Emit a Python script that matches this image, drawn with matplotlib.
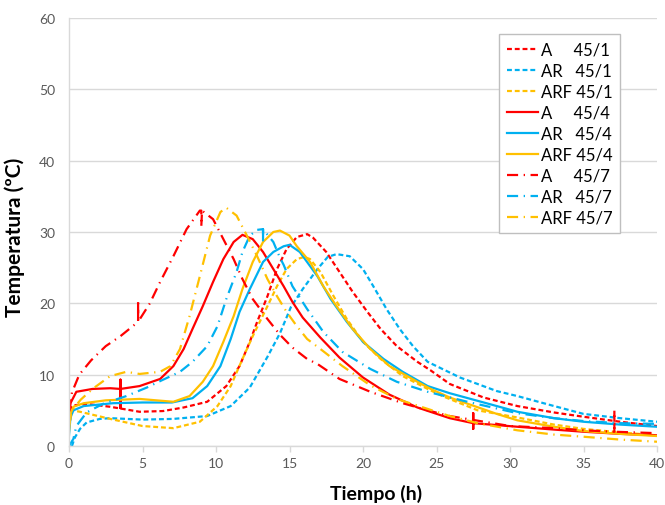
import matplotlib
matplotlib.use("Agg")
import matplotlib.pyplot as plt

plt.rcParams['font.family'] = ['Lato', 'DejaVu Sans']

# ---- data ----
x_A1 = [0, 0.3, 1.2, 2.8, 4.8, 6.4, 7.8, 9.4, 10.7, 11.6, 12.3, 12.8, 13.5, 14.15, 14.8, 15.5, 16.2, 16.6, 17.5, 18.4, 19.3, 20.3, 21.2, 22.3, 23.7, 24.6, 25.9, 28.2, 30.5, 33, 35, 37.5, 40]
y_A1 = [5.0, 5.7, 5.9, 5.5, 4.8, 4.9, 5.4, 6.2, 8.4, 11.2, 14.6, 17.4, 21.0, 24.8, 27.6, 29.3, 29.7, 29.2, 27.2, 24.4, 21.6, 18.8, 16.4, 14.0, 11.8, 10.6, 8.7, 6.8, 5.6, 4.7, 4.1, 3.4, 2.8]

x_AR1 = [0.2, 0.4, 0.75, 1.2, 2.1, 2.8, 5.0, 7.1, 9.4, 11.0, 12.3, 13.5, 14.35, 15.1, 15.9, 16.9, 17.6, 18.2, 19.1, 20.0, 20.7, 21.6, 22.5, 23.4, 24.4, 26.6, 29.1, 30.5, 33, 35, 37.5, 40]
y_AR1 = [0.0, 1.2, 2.4, 3.3, 3.8, 3.9, 3.7, 3.8, 4.2, 5.6, 8.2, 12.5, 15.8, 19.5, 22.0, 24.8, 26.5, 26.9, 26.6, 24.8, 22.4, 19.2, 16.4, 14.0, 11.8, 9.6, 7.7, 7.0, 5.6, 4.5, 3.9, 3.4]

x_ARF1 = [0, 0.2, 0.75, 2.8, 5.0, 7.1, 8.9, 10.1, 11.0, 11.8, 12.5, 13.5, 14.15, 14.8, 15.5, 16.0, 16.4, 17.1, 18.0, 18.9, 20.0, 21.2, 22.7, 24.4, 25.4, 27.8, 30.5, 33, 35, 37.5, 40]
y_ARF1 = [2.5, 5.0, 4.8, 3.8, 2.8, 2.5, 3.4, 5.6, 8.4, 12.2, 15.4, 19.6, 22.4, 24.8, 26.2, 26.5, 26.2, 24.4, 21.0, 17.8, 14.6, 12.2, 9.8, 8.0, 7.0, 5.0, 4.0, 3.0, 2.4, 1.9, 1.5]

x_A4 = [0, 0.1, 0.5, 1.6, 2.8, 3.5, 3.5, 3.5, 3.5, 4.8, 6.2, 7.1, 7.8, 8.4, 9.1, 9.8, 10.5, 11.2, 11.8, 12.5, 13.2, 13.9, 14.6, 15.2, 15.9, 17.1, 18.4, 20.0, 21.8, 23.7, 25.9, 27.5, 27.5, 27.5, 27.5, 30.5, 33, 35, 37.5, 40]
y_A4 = [3.0, 6.0, 7.6, 8.0, 8.1, 8.0, 5.3, 9.3, 8.0, 8.4, 9.4, 11.2, 13.6, 16.4, 19.6, 23.0, 26.2, 28.6, 29.6, 29.0, 27.2, 24.8, 22.4, 20.2, 18.0, 15.2, 12.4, 9.6, 7.2, 5.4, 3.9, 3.2, 4.6, 2.4, 3.2, 2.7, 2.3, 2.0, 1.7, 1.5]

x_AR4 = [0, 0.1, 0.3, 1.0, 3.0, 5.0, 7.0, 8.4, 9.4, 10.3, 11.0, 11.6, 12.3, 13.2, 13.9, 14.6, 15.0, 15.7, 16.9, 17.8, 18.9, 20.0, 21.4, 22.7, 24.4, 25.9, 29.1, 30.5, 33, 35, 37.5, 40]
y_AR4 = [1.5, 4.0, 5.0, 5.6, 6.0, 6.1, 6.1, 6.7, 8.4, 11.2, 15.0, 18.8, 22.0, 25.8, 27.2, 28.0, 28.2, 27.2, 23.8, 20.6, 17.4, 14.6, 12.2, 10.4, 8.4, 7.4, 5.6, 4.8, 3.9, 3.4, 3.0, 2.7]

x_ARF4 = [0, 0.1, 0.3, 1.0, 2.5, 4.8, 7.1, 8.2, 9.1, 9.8, 10.5, 11.2, 11.8, 12.5, 13.2, 13.9, 14.35, 15.0, 15.5, 16.4, 17.3, 18.2, 19.3, 20.5, 21.8, 23.7, 24.6, 25.9, 29.1, 30.5, 33, 35, 37.5, 40]
y_ARF4 = [2.0, 4.5, 5.5, 6.0, 6.4, 6.6, 6.2, 7.0, 9.0, 11.2, 14.6, 18.2, 22.0, 25.8, 28.6, 30.0, 30.2, 29.5, 28.0, 25.8, 22.4, 19.6, 16.4, 13.6, 11.2, 9.0, 8.0, 6.8, 4.5, 3.6, 2.7, 2.1, 1.7, 1.4]

x_A7 = [0, 0.2, 0.7, 1.5, 2.5, 3.5, 4.7, 4.7, 4.7, 5.5, 6.2, 7.1, 8.0, 8.9, 9.0, 9.0, 9.05, 9.8, 10.5, 11.2, 11.8, 12.5, 13.5, 14.35, 15.2, 16.2, 16.9, 18.4, 20.5, 22.7, 24.4, 25.9, 30, 33, 35, 37.1, 37.1, 37.1, 40]
y_A7 = [5.0, 7.5, 10.0, 12.0, 14.0, 15.4, 17.4, 20.5, 17.4, 20.0, 23.0, 26.6, 30.4, 33.0, 33.0, 30.8, 33.0, 31.8, 29.0, 26.2, 23.4, 20.6, 17.8, 15.6, 13.8, 12.2, 11.5, 9.4, 7.6, 6.0, 5.0, 4.2, 2.8, 2.5, 2.2, 2.0, 5.0, 2.0, 1.8]

x_AR7 = [0, 0.3, 0.5, 1.2, 2.3, 3.9, 5.3, 6.2, 7.55, 8.4, 9.4, 10.1, 10.7, 11.4, 11.8, 12.3, 12.8, 13.2, 13.2, 13.2, 13.9, 14.35, 14.6, 15.2, 16.2, 17.3, 18.6, 20.5, 22.3, 24.4, 27.1, 30.5, 33, 35, 37.5, 40]
y_AR7 = [0.0, 1.0, 2.8, 4.7, 5.9, 7.0, 8.2, 9.1, 10.4, 11.8, 14.0, 16.8, 20.6, 24.4, 27.2, 29.5, 30.3, 30.4, 28.4, 30.4, 28.6, 26.4, 25.4, 22.4, 19.2, 16.0, 13.2, 10.8, 9.0, 7.6, 6.2, 4.6, 3.9, 3.5, 3.2, 3.1]

x_ARF7 = [0, 0.2, 0.8, 1.6, 2.8, 3.9, 4.8, 6.2, 6.9, 7.55, 8.2, 8.9, 9.6, 10.3, 10.7, 11.4, 12.1, 12.8, 13.5, 14.15, 14.8, 15.5, 16.2, 17.1, 18.6, 20.5, 22.3, 24.1, 25.9, 27.8, 30.5, 33, 35, 37.5, 40]
y_ARF7 = [3.0, 5.0, 6.5, 8.0, 9.8, 10.4, 10.1, 10.4, 11.2, 13.6, 18.2, 23.8, 29.5, 32.8, 33.4, 32.3, 29.5, 26.6, 23.4, 21.0, 18.8, 16.8, 15.0, 13.6, 11.2, 8.5, 6.6, 5.4, 4.2, 3.2, 2.2, 1.6, 1.3, 0.9, 0.6]

labels = ["A     45/1", "AR   45/1", "ARF 45/1",
          "A     45/4", "AR   45/4", "ARF 45/4",
          "A     45/7", "AR   45/7", "ARF 45/7"]
x_ticks = [0, 5, 10, 15, 20, 25, 30, 35, 40]
y_ticks = [0, 10, 20, 30, 40, 50, 60]

RED, BLUE, GOLD = "#ff0000", "#00b0f0", "#ffc000"
DASH = (0, (2.2, 1.3))
DASHDOT = (0, (5, 2.5, 0.6, 2.5))

series = [
    (x_A1, y_A1, RED, DASH), (x_AR1, y_AR1, BLUE, DASH), (x_ARF1, y_ARF1, GOLD, DASH),
    (x_A4, y_A4, RED, "-"), (x_AR4, y_AR4, BLUE, "-"), (x_ARF4, y_ARF4, GOLD, "-"),
    (x_A7, y_A7, RED, DASHDOT), (x_AR7, y_AR7, BLUE, DASHDOT), (x_ARF7, y_ARF7, GOLD, DASHDOT),
]

fig = plt.figure(figsize=(6.65, 5.06), dpi=100)
ax = fig.add_axes([69/665, 59/506, 588/665, 428/506])

for (xs, ys, c, ls), lab in zip(series, labels):
    ax.plot(xs, ys, color=c, linestyle=ls, lw=1.6, label=lab,
            solid_joinstyle="round", dash_joinstyle="round")

ax.set_xlim(0, 40)
ax.set_ylim(0, 60)
ax.set_xticks(x_ticks)
ax.set_yticks(y_ticks)
ax.yaxis.grid(True, color="#d9d9d9", lw=1.0)
ax.set_axisbelow(True)
for s in ["top", "right"]:
    ax.spines[s].set_visible(False)
for s in ["left", "bottom"]:
    ax.spines[s].set_color("#d9d9d9")
    ax.spines[s].set_linewidth(1.0)
ax.tick_params(axis="y", length=0, pad=10, labelsize=10, labelcolor="#595959")
ax.tick_params(axis="x", length=4, width=1, color="#d9d9d9", pad=4, labelsize=10, labelcolor="#595959")

ax.set_xlabel("Tiempo (h)", fontsize=14, fontweight="bold", color="black")
ax.set_ylabel("Temperatura (ºC)", fontsize=15, fontweight="bold", color="black")
ax.xaxis.set_label_coords((376-69)/588, -0.088)
ax.yaxis.set_label_coords(-0.075, 0.49)

leg = ax.legend(loc="upper right", bbox_to_anchor=(0.937, 0.963), borderaxespad=0,
                fontsize=12, frameon=True, fancybox=False, edgecolor="#bfbfbf", framealpha=1,
                handlelength=1.9, handletextpad=0.15, labelspacing=0.3, borderpad=0.45)
leg.get_frame().set_linewidth(1.0)

fig.savefig("out.png", dpi=100)
